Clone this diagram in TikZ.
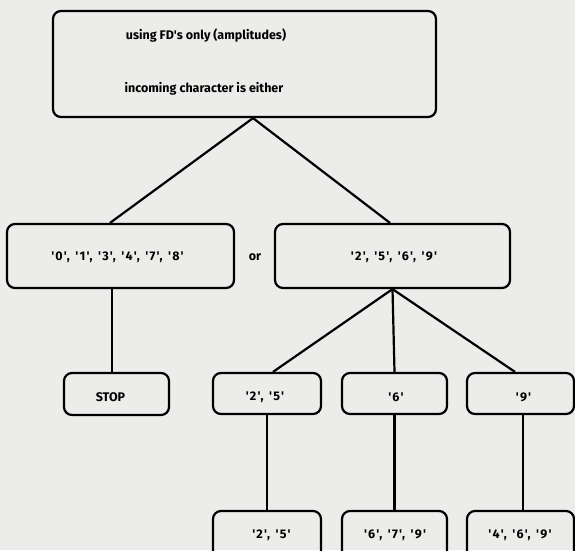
\documentclass[tikz,border=0pt]{standalone}
\usepackage{fontspec}
\setmainfont{Fira Sans}
\newcommand{\qd}[1]{\textquotesingle\kern1.2pt#1\kern1.2pt\textquotesingle}
\newcommand{\sep}{,\hspace{5.5pt}}
\begin{document}
\begin{tikzpicture}[x=1pt,y=-1pt,
  box/.style={draw=black,line width=2.2pt,rounded corners=8pt,inner sep=0pt,fill=none},
  lbl/.style={font=\fontsize{12.5}{14}\selectfont\bfseries,inner sep=0pt,anchor=center},
  conn/.style={draw=black,line width=2.2pt}]
\fill[fill={rgb,255:red,236;green,236;blue,234}] (0,0) rectangle (575,550);
\useasboundingbox (0,0) rectangle (575,550);
\clip (0,0) rectangle (575,550);
% top box
\node[box,minimum width=383pt,minimum height=106pt] (top) at (244.5,64) {};
\node[lbl] (t1) at (206,36) {using FD\textquotesingle s only (amplitudes)};
\node[lbl] (t2) at (204,89) {incoming character is either};
% second row
\node[box,minimum width=227pt,minimum height=64pt] (lb) at (120.5,256) {};
\node[lbl] (lbt) at (117.5,257) {\qd{0}\sep\qd{1}\sep\qd{3}\sep\qd{4}\sep\qd{7}\sep\qd{8}};
\node[lbl] (or) at (255,257) {or};
\node[box,minimum width=235pt,minimum height=64pt] (rb) at (392.5,256) {};
\node[lbl] (rbt) at (394,257) {\qd{2}\sep\qd{5}\sep\qd{6}\sep\qd{9}};
% third row
\node[box,minimum width=105pt,minimum height=42pt] (stop) at (116.5,394) {};
\node[lbl] (stopt) at (110.5,397) {STOP};
\node[box,minimum width=108pt,minimum height=41pt] (m25) at (267,393.5) {};
\node[lbl] (m25t) at (265,397) {\qd{2}\sep\qd{5}};
\node[box,minimum width=105pt,minimum height=41pt] (m6) at (394.5,393.5) {};
\node[lbl] (m6t) at (396,397) {\qd{6}};
\node[box,minimum width=107pt,minimum height=41pt] (m9) at (520.5,393.5) {};
\node[lbl] (m9t) at (523.5,397) {\qd{9}};
% bottom row
\node[box,minimum width=108pt,minimum height=50pt] (b25) at (267,536) {};
\node[lbl] (b25t) at (271.5,535) {\qd{2}\sep\qd{5}};
\node[box,minimum width=105pt,minimum height=50pt] (b6) at (394.5,536) {};
\node[lbl] (b6t) at (395,535) {\qd{6}\sep\qd{7}\sep\qd{9}};
\node[box,minimum width=107pt,minimum height=50pt] (b9) at (520.5,536) {};
\node[lbl] (b9t) at (520,535) {\qd{4}\sep\qd{6}\sep\qd{9}};
% connectors
\coordinate (apex) at ([xshift=8.5pt]top.south);
\draw[conn] (apex) -- ([xshift=-10.5pt]lb.north);
\draw[conn] (apex) -- ([xshift=-2.5pt]rb.north);
\draw[conn] ([xshift=-8.5pt]lb.south) -- ([xshift=-4.5pt]stop.north);
\draw[conn] (rb.south) -- ([xshift=6pt]m25.north);
\draw[conn] (rb.south) -- (m6.north);
\draw[conn] (rb.south) -- ([xshift=-5.5pt]m9.north);
\draw[conn] (m25.south) -- (b25.north);
\draw[conn] (m6.south) -- (b6.north);
\draw[conn] ([xshift=2.5pt]m9.south) -- ([xshift=2.5pt]b9.north);
\end{tikzpicture}
\end{document}
